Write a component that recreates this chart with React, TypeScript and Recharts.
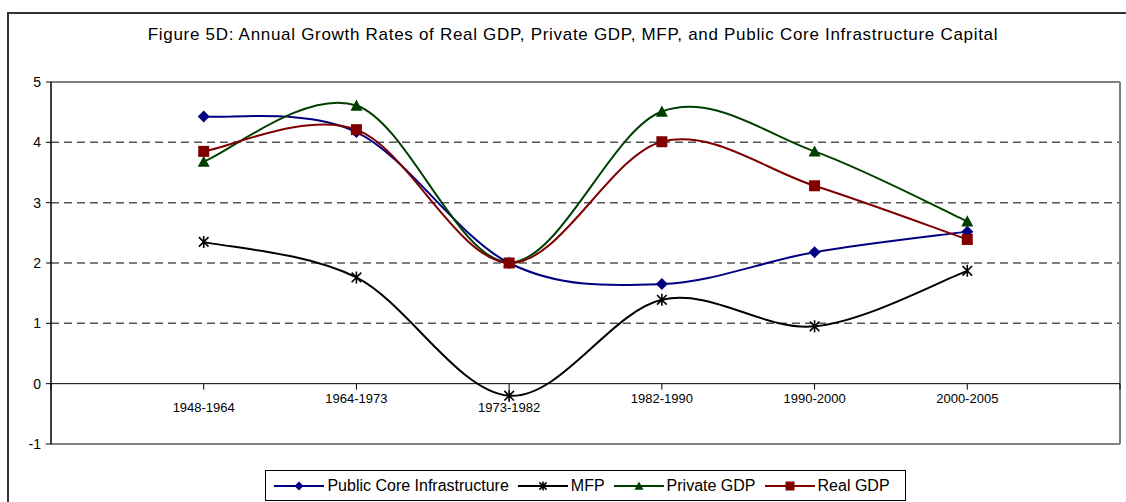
import React from "react";
import { LineChart, Line, XAxis, YAxis, ReferenceLine, Legend } from "recharts";

const periods = ["1948-1964", "1964-1973", "1973-1982", "1982-1990", "1990-2000", "2000-2005"];
const publicCore = [4.43, 4.17, 2.0, 1.65, 2.18, 2.52];
const mfp = [2.35, 1.76, -0.2, 1.39, 0.95, 1.87];
const privateGdp = [3.68, 4.61, 2.01, 4.51, 3.85, 2.69];
const realGdp = [3.85, 4.21, 2.0, 4.01, 3.28, 2.39];
const yTicks = [-1, 0, 1, 2, 3, 4, 5];
const gridValues = [1, 2, 3, 4];
const xTicks = [0, 1, 2, 3, 4, 5, 6, 7];
// labels Excel pushed down a bit to clear the markers
const lowLabels = ["1948-1964", "1973-1982"];

const data = periods.map((period, i) => ({
    x: i + 1,
    period,
    publicCore: publicCore[i],
    mfp: mfp[i],
    privateGdp: privateGdp[i],
    realGdp: realGdp[i],
}));

const FONT = "'Liberation Sans', Arial, sans-serif";
const W = 1126;
const H = 502;
const PLOT_TOP = 82;
const PLOT_BOTTOM = 444;
const PLOT_LEFT = 51;
const PLOT_RIGHT = 1120;
const ZERO_OFFSET = (PLOT_BOTTOM - PLOT_TOP) / 6;

// Excel style smoothing (Catmull-Rom through the points)
const excelCurve = (context: any) => {
    let pts: number[][] = [];
    return {
        areaStart() {},
        areaEnd() {},
        lineStart() {
            pts = [];
        },
        point(x: number, y: number) {
            pts.push([+x, +y]);
        },
        lineEnd() {
            const n = pts.length;
            if (!n) return;
            context.moveTo(pts[0][0], pts[0][1]);
            for (let i = 0; i < n - 1; i++) {
                const p0 = pts[Math.max(i - 1, 0)];
                const p1 = pts[i];
                const p2 = pts[i + 1];
                const p3 = pts[Math.min(i + 2, n - 1)];
                context.bezierCurveTo(
                    p1[0] + (p2[0] - p0[0]) / 6,
                    p1[1] + (p2[1] - p0[1]) / 6,
                    p2[0] - (p3[0] - p1[0]) / 6,
                    p2[1] - (p3[1] - p1[1]) / 6,
                    p2[0],
                    p2[1]
                );
            }
        },
    };
};

const Diamond = ({ cx, cy, color, s = 6 }: any) => (
    <polygon points={`${cx},${cy - s} ${cx + s},${cy} ${cx},${cy + s} ${cx - s},${cy}`} fill={color} />
);
const Square = ({ cx, cy, color, s = 5.5 }: any) => (
    <rect x={cx - s} y={cy - s} width={s * 2} height={s * 2} fill={color} />
);
const Triangle = ({ cx, cy, color, s = 6 }: any) => (
    <polygon points={`${cx},${cy - s} ${cx + s},${cy + s * 0.85} ${cx - s},${cy + s * 0.85}`} fill={color} />
);
const Star = ({ cx, cy, color, s = 6 }: any) => (
    <path
        d={`M${cx - s * 0.8},${cy - s * 0.8}L${cx + s * 0.8},${cy + s * 0.8}M${cx + s * 0.8},${cy - s * 0.8}L${cx - s * 0.8},${cy + s * 0.8}M${cx},${cy - s}L${cx},${cy + s}`}
        stroke={color}
        strokeWidth={1.6}
        fill="none"
    />
);

const series = [
    { key: "publicCore", name: "Public Core Infrastructure", color: "#000080", Marker: Diamond },
    { key: "mfp", name: "MFP", color: "#000000", Marker: Star },
    { key: "privateGdp", name: "Private GDP", color: "#003f00", Marker: Triangle },
    { key: "realGdp", name: "Real GDP", color: "#800000", Marker: Square },
];

const XTick = ({ x, y, payload }: any) => {
    const label = periods[payload.value - 1];
    const y0 = y - ZERO_OFFSET;
    return (
        <g>
            <line x1={x} x2={x} y1={y0} y2={y0 + 6} stroke="#000" strokeWidth={1} />
            {label && (
                <text x={x} y={y0 + (lowLabels.includes(label) ? 28 : 19)} textAnchor="middle" fontSize={13} fill="#000" fontFamily={FONT}>
                    {label}
                </text>
            )}
        </g>
    );
};

const LegendBox = () => (
    <div style={{ display: "flex", justifyContent: "center" }}>
        <div
            style={{
                display: "flex",
                alignItems: "center",
                border: "1px solid #000",
                height: 29,
                padding: "0 6px 0 8px",
                fontFamily: FONT,
                fontSize: 16,
                color: "#000",
                background: "#fff",
            }}
        >
            {series.map((s) => (
                <div key={s.key} style={{ display: "flex", alignItems: "center", marginRight: 9 }}>
                    <svg width={50} height={14} style={{ marginRight: 3 }}>
                        <line x1={0} x2={50} y1={7} y2={7} stroke={s.color} strokeWidth={2} />
                        <s.Marker cx={25} cy={7} color={s.color} s={4.5} />
                    </svg>
                    <span>{s.name}</span>
                </div>
            ))}
        </div>
    </div>
);

export default function App() {
    return (
        <div style={{ position: "absolute", left: 0, top: 0, width: W, height: H, overflow: "hidden", background: "#fff" }}>
            <div
                style={{
                    position: "absolute",
                    left: 7,
                    top: 12,
                    width: W,
                    height: H,
                    borderLeft: "2px solid #333",
                    borderTop: "2px solid #333",
                }}
            />
            <div
                style={{
                    position: "absolute",
                    left: 0,
                    width: 1146,
                    top: 25,
                    textAlign: "center",
                    fontFamily: FONT,
                    fontSize: 17,
                    letterSpacing: 0.7,
                    color: "#000",
                }}
            >
                Figure 5D: Annual Growth Rates of Real GDP, Private GDP, MFP, and Public Core Infrastructure Capital
            </div>
            <div style={{ position: "absolute", left: 0, top: 0 }}>
                <LineChart
                    width={W}
                    height={H}
                    data={data}
                    margin={{ top: PLOT_TOP, right: W - PLOT_RIGHT, left: PLOT_LEFT - 40, bottom: H - PLOT_BOTTOM - 20 }}
                >
                    <XAxis
                        dataKey="x"
                        type="number"
                        domain={[0, 7]}
                        ticks={xTicks}
                        interval={0}
                        height={20}
                        axisLine={false}
                        tickLine={false}
                        tickSize={0}
                        tickMargin={0}
                        tick={<XTick />}
                    />
                    <YAxis
                        type="number"
                        domain={[-1, 5]}
                        ticks={yTicks}
                        interval={0}
                        width={40}
                        axisLine={{ stroke: "#000", strokeWidth: 1.5 }}
                        tickLine={{ stroke: "#000" }}
                        tickSize={5}
                        tickMargin={5}
                        tick={{ fill: "#000", fontSize: 14, fontFamily: FONT }}
                    />
                    {gridValues.map((v) => (
                        <ReferenceLine key={v} y={v} stroke="#555" strokeWidth={1.5} strokeDasharray="8 5" />
                    ))}
                    <ReferenceLine y={5} stroke="#808080" strokeWidth={2} />
                    <ReferenceLine y={-1} stroke="#808080" strokeWidth={2} />
                    <ReferenceLine x={7} stroke="#808080" strokeWidth={2} />
                    <ReferenceLine y={0} stroke="#000" strokeWidth={1} />
                    {series.map((s) => (
                        <Line
                            key={s.key}
                            dataKey={s.key}
                            name={s.name}
                            type={excelCurve as any}
                            stroke={s.color}
                            strokeWidth={2}
                            isAnimationActive={false}
                            dot={(p: any) => <s.Marker key={`${s.key}-${p.index}`} cx={p.cx} cy={p.cy} color={s.color} />}
                            activeDot={false}
                        />
                    ))}
                    <Legend
                        layout="horizontal"
                        verticalAlign="middle"
                        content={<LegendBox />}
                        wrapperStyle={{ position: "absolute", top: 470, left: PLOT_LEFT, width: PLOT_RIGHT - PLOT_LEFT, height: 31 }}
                    />
                </LineChart>
            </div>
        </div>
    );
}
